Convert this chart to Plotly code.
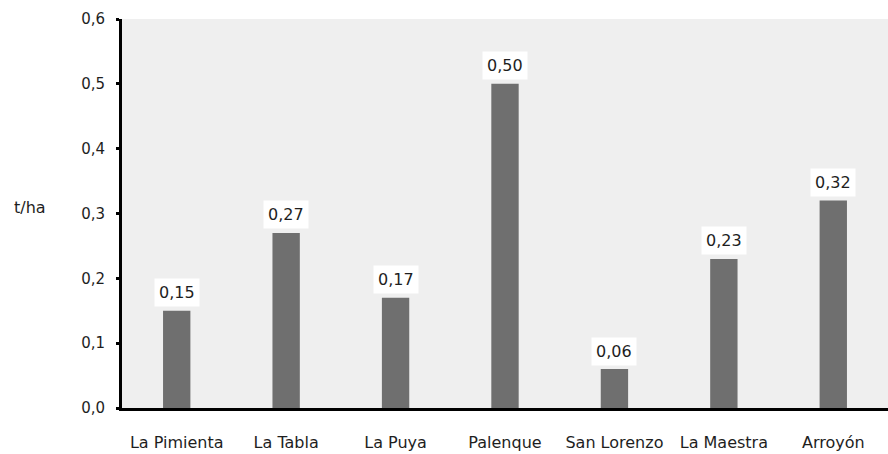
import plotly.graph_objects as go

# Rendimiento por localidad (t/ha)
localidades = ["La Pimienta", "La Tabla", "La Puya", "Palenque",
               "San Lorenzo", "La Maestra", "Arroyón"]
rendimiento = [0.15, 0.27, 0.17, 0.50, 0.06, 0.23, 0.32]
y_ticks = [0.0, 0.1, 0.2, 0.3, 0.4, 0.5, 0.6]

W, H = 888, 454
ML, MR, MT, MB = 122, 0, 19, 46
FONT = "DejaVu Sans, Verdana, sans-serif"
TXT = "#1e1e1e"

fig = go.Figure(
    go.Bar(
        x=localidades,
        y=rendimiento,
        width=0.25,
        marker=dict(color="#6f6f6f", line=dict(width=0)),
        hoverinfo="skip",
    )
)

# value labels on white boxes above each bar
for cat, val in zip(localidades, rendimiento):
    fig.add_annotation(
        x=cat, y=val, xref="x", yref="y",
        text=f"{val:.2f}".replace(".", ","),
        showarrow=False, yshift=18,
        font=dict(family=FONT, size=16, color=TXT),
        bgcolor="white", borderpad=4,
    )

# y axis title
fig.add_annotation(
    xref="paper", yref="y",
    x=(30 - ML) / (W - ML - MR), y=0.3, xanchor="center",
    text="t/ha", showarrow=False, yshift=6,
    font=dict(family=FONT, size=16, color=TXT),
)

fig.update_layout(
    width=W, height=H,
    margin=dict(l=ML, r=MR, t=MT, b=MB),
    paper_bgcolor="white",
    plot_bgcolor="#efefef",
    separators=",.",
    showlegend=False,
    font=dict(family=FONT, size=14, color=TXT),
)

fig.update_xaxes(
    showline=True, linecolor="black", linewidth=3,
    showgrid=False, ticks="", ticklabelstandoff=18,
    tickfont=dict(family=FONT, size=16, color=TXT),
    range=[-0.5, 6.5],
)

fig.update_yaxes(
    range=[0, 0.6], tickvals=y_ticks, tickformat=".1f",
    showline=True, linecolor="black", linewidth=3,
    showgrid=False, zeroline=False,
    ticks="outside", ticklen=3, tickwidth=3, tickcolor="black",
    ticklabelstandoff=8,
    tickfont=dict(family=FONT, size=15, color=TXT),
)

fig.write_html("out.html")
